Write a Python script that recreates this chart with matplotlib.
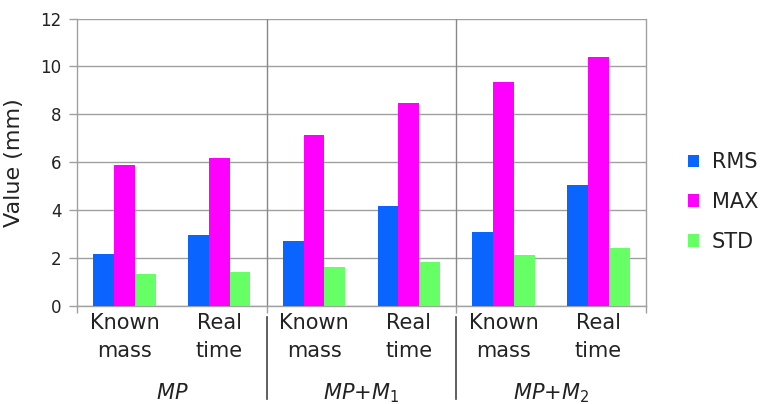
import matplotlib
matplotlib.use("Agg")
import matplotlib.pyplot as plt
import numpy as np
from matplotlib.patches import Patch

categories = ["Known\nmass", "Real\ntime", "Known\nmass", "Real\ntime", "Known\nmass", "Real\ntime"]
groups = [r"$MP$", r"$MP{+}M_1$", r"$MP{+}M_2$"]
series_names = ["RMS", "MAX", "STD"]
rms = [2.17, 2.97, 2.72, 4.17, 3.07, 5.05]
mx = [5.89, 6.16, 7.15, 8.46, 9.35, 10.39]
std = [1.33, 1.40, 1.63, 1.82, 2.14, 2.44]
yticks = [0, 2, 4, 6, 8, 10, 12]
colors = ["#0A64FF", "#FF00FF", "#66FF66"]

plt.rcParams['font.family'] = ['DejaVu Sans']
plt.rcParams['mathtext.fontset'] = 'dejavusans'

fig = plt.figure(figsize=(7.8, 4.04), dpi=100)
ax = fig.add_axes([0.0987, 0.2426, 0.7293, 0.7114])

n = len(categories)
x = np.arange(n)
w = 0.22
for i, (vals, c) in enumerate(zip([rms, mx, std], colors)):
    ax.bar(x + (i - 1) * w, vals, width=w, color=c, zorder=3, linewidth=0)

ax.set_xlim(-0.5, n - 0.5)
ax.set_ylim(0, 12)
ax.set_yticks(yticks)
ax.set_yticklabels([str(t) for t in yticks], fontsize=12, color="#222222")
ax.yaxis.grid(True, color="#a0a0a0", linewidth=1.0, zorder=0)
ax.tick_params(axis='y', length=6, color="#a0a0a0", width=1.0, pad=5)
ax.set_xticks([-0.5, 1.5, 3.5, 5.5])
ax.set_xticklabels([])
ax.tick_params(axis='x', length=5, direction='out', color="#a0a0a0", width=1.0)
for s in ["left", "right", "bottom"]:
    ax.spines[s].set_color("#a0a0a0")
    ax.spines[s].set_linewidth(1.0)
ax.spines["top"].set_visible(False)

xt = ax.get_xaxis_transform()
# section separators
for xs in [1.5, 3.5]:
    ax.axvline(xs, color="#888888", linewidth=1.0, zorder=2)
    ax.plot([xs, xs], [-0.04, -0.325], transform=xt,
            color="#444444", linewidth=1.2, clip_on=False)

# category labels
for xi, lab in zip(x, categories):
    ax.text(xi, -0.025, lab, transform=xt, ha='center', va='top',
            fontsize=15, color="#222222", linespacing=1.5)
for gi, g in enumerate(groups):
    ax.text(2 * gi + 0.5, -0.303, g, transform=xt, ha='center', va='center',
            fontsize=15, color="#222222")

ax.set_ylabel("Value (mm)", fontsize=16, color="#222222")
ax.yaxis.set_label_coords(-0.093, 0.5)

handles = [Patch(facecolor=c, edgecolor='none') for c in colors]
fig.legend(handles, series_names, loc='center left', bbox_to_anchor=(0.882, 0.5),
           frameon=False, fontsize=15, handlelength=0.55, handleheight=0.55,
           handletextpad=0.6, labelspacing=0.95, labelcolor="#222222",
           borderpad=0, borderaxespad=0)

fig.savefig("out.png", dpi=100)
